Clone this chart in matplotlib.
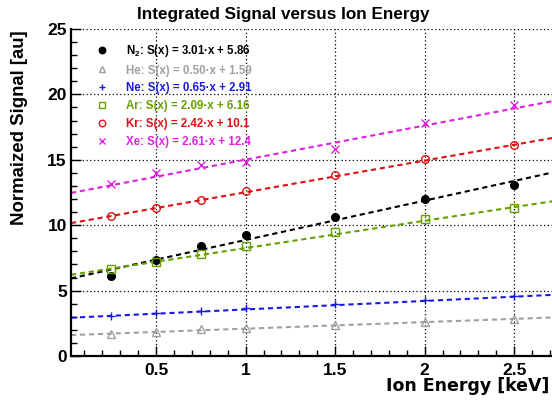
import numpy as np
import matplotlib
matplotlib.use("Agg")
import matplotlib.pyplot as plt
from matplotlib.ticker import MultipleLocator
from matplotlib.lines import Line2D

plt.rcParams['font.family'] = ['Liberation Sans', 'DejaVu Sans']
plt.rcParams['font.weight'] = 'bold'
plt.rcParams['mathtext.fontset'] = 'custom'
plt.rcParams['mathtext.rm'] = 'Liberation Sans:bold'
plt.rcParams['mathtext.it'] = 'Liberation Sans:bold'
plt.rcParams['mathtext.bf'] = 'Liberation Sans:bold'

# energias medidas [keV]
energia = [0.25, 0.5, 0.75, 1.0, 1.5, 2.0, 2.5]

# senal normalizada por gas
n2 = [6.14, 7.34, 8.41, 9.25, 10.65, 12.03, 13.05]
he = [1.70, 1.83, 2.04, 2.12, 2.37, 2.62, 2.83]
ne = [3.06, 3.26, 3.47, 3.65, 3.98, 4.28, 4.59]
ar = [6.68, 7.19, 7.77, 8.41, 9.46, 10.45, 11.31]
kr = [10.70, 11.29, 11.93, 12.61, 13.84, 15.04, 16.13]
xe = [13.13, 13.97, 14.60, 14.85, 15.80, 17.84, 19.17]

# parametros del ajuste lineal (pendiente, ordenada)
pendientes = [3.01, 0.50, 0.65, 2.09, 2.42, 2.61]
ordenadas = [5.86, 1.59, 2.91, 6.16, 10.1, 12.4]

gases = ["N$_2$", "He", "Ne", "Ar", "Kr", "Xe"]
series = [n2, he, ne, ar, kr, xe]
colores = ["black", "#a0a0a0", "#1a1ae6", "#66a000", "#e01010", "#e020e0"]
marcadores = ["o", "^", "+", "s", "o", "x"]
rellenos = [True, False, False, False, False, False]

fig = plt.figure(figsize=(5.52, 4.01), dpi=100)
ax = fig.add_axes([71 / 552, 45 / 401, 483.5 / 552, 327 / 401])

xmin, xmax = 0.025, 2.725
xs = np.array([xmin, xmax])

handles = []
for gas, y, m, b, col, mk, fill in zip(gases, series, pendientes, ordenadas,
                                        colores, marcadores, rellenos):
    ax.plot(xs, m * xs + b, color=col, lw=1.5, ls=(0, (2.5, 1.8)), zorder=2)
    ms = 5.5
    if mk in ("+", "x"):
        ax.plot(energia, y, ls="none", marker=mk, ms=ms, color=col, mew=1.0, zorder=3)
        h = Line2D([], [], ls="none", marker=mk, ms=ms, color=col, mew=1.0)
    else:
        fc = col if fill else "none"
        ax.plot(energia, y, ls="none", marker=mk, ms=ms, mfc=fc, mec=col, mew=1.0, zorder=3)
        h = Line2D([], [], ls="none", marker=mk, ms=ms, mfc=fc, mec=col, mew=1.0)
    handles.append(h)

etiquetas = [f"{g}: S(x) = {m:.2f}·x + {b:.3g}" if b >= 10 else
             f"{g}: S(x) = {m:.2f}·x + {b:.2f}"
             for g, m, b in zip(gases, pendientes, ordenadas)]

leg = ax.legend(handles, etiquetas, loc="upper left", bbox_to_anchor=(0.043, 0.972),
                frameon=False, prop={"size": 8.3, "weight": "bold"},
                handlelength=1.0, handletextpad=1.6, labelspacing=0.5,
                borderaxespad=0, markerscale=0.85)
for txt, col in zip(leg.get_texts(), colores):
    txt.set_color(col)

ax.set_xlim(xmin, xmax)
ax.set_ylim(0, 25)
ax.xaxis.set_major_locator(MultipleLocator(0.5))
ax.xaxis.set_minor_locator(MultipleLocator(0.1))
ax.yaxis.set_major_locator(MultipleLocator(5))
ax.yaxis.set_minor_locator(MultipleLocator(1))
ax.set_xticks([0.5, 1, 1.5, 2, 2.5])
ax.set_xticklabels(["0.5", "1", "1.5", "2", "2.5"])

ax.grid(True, which="major", color="black", lw=0.9, ls=(0, (1, 2)))
ax.tick_params(which="both", direction="in", top=False, right=False, width=1.0)
ax.tick_params(which="major", length=7, labelsize=12.5, pad=5)
ax.tick_params(axis="y", which="major", pad=3)
ax.tick_params(which="minor", length=4.5)
for lab in ax.get_xticklabels() + ax.get_yticklabels():
    lab.set_fontweight("bold")

for lado in ("left", "bottom"):
    ax.spines[lado].set_linewidth(1.6)
ax.spines["top"].set_visible(False)
ax.spines["right"].set_visible(False)

fig.text(283 / 552, 1 - 15 / 401, "Integrated Signal versus Ion Energy",
         ha="center", va="center", fontsize=12.3, fontweight="bold")
fig.text(549 / 552, 1 - 391 / 401, "Ion Energy [keV]", ha="right", va="baseline",
         fontsize=12.5, fontweight="bold", family="DejaVu Sans")
fig.text(20 / 552, 1 - 30 / 401, "Normaized Signal [au]", ha="center", va="top",
         rotation=90, fontsize=13.4, fontweight="bold")

fig.savefig("out.png", dpi=100)
